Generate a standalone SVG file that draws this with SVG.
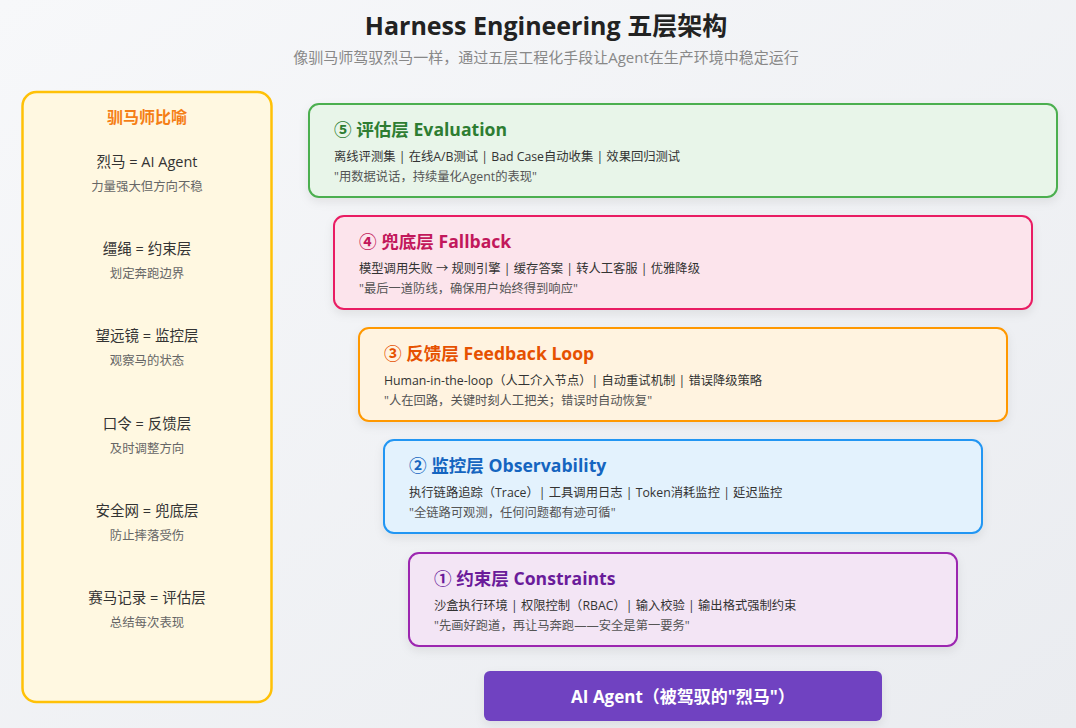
<svg xmlns="http://www.w3.org/2000/svg" width="1076" height="728" viewBox="0 0 1076 728">
  <defs>
    <linearGradient id="bg" x1="0" y1="0" x2="1" y2="1">
      <stop offset="0" stop-color="#f7f8fa"/>
      <stop offset="1" stop-color="#eaecf0"/>
    </linearGradient>
    <filter id="sh" x="-10%" y="-20%" width="120%" height="150%">
      <feDropShadow dx="0" dy="4" stdDeviation="5" flood-color="#000" flood-opacity="0.08"/>
    </filter>
  </defs>
  <style>
    text { font-family: "Open Sans", "Noto Sans CJK SC", sans-serif; }
    .title { font-size: 25px; font-weight: 700; fill: #222; text-anchor: middle; }
    .subtitle { font-size: 15px; fill: #888; text-anchor: middle; }
    .panel { fill: #FFF8E1; stroke: #FFC107; stroke-width: 2.5; }
    .ptitle { font-size: 16px; font-weight: 700; fill: #F57F17; text-anchor: middle; }
    .pitem { font-size: 14.5px; fill: #333; text-anchor: middle; }
    .psub { font-size: 12.4px; fill: #666; text-anchor: middle; }
    .box { stroke-width: 2; filter: url(#sh); }
    .ltitle { font-size: 17.6px; font-weight: 700; }
    .l1 { font-size: 12.3px; fill: #333; }
    .l2 { font-size: 12.3px; fill: #555; }
    .agent { fill: #6F42C1; filter: url(#sh); }
    .agentt { font-size: 17px; font-weight: 700; fill: #fff; text-anchor: middle; }
  </style>
  <rect x="0" y="0" width="1076" height="728" fill="url(#bg)"/>

  <g id="header">
    <text class="title" x="546" y="35">Harness Engineering 五层架构</text>
    <text class="subtitle" x="546" y="63">像驯马师驾驭烈马一样，通过五层工程化手段让Agent在生产环境中稳定运行</text>
  </g>

  <g id="metaphor">
    <rect class="panel" x="22.5" y="92" width="249" height="610" rx="14"/>
    <text class="ptitle" x="147" y="123">驯马师比喻</text>
    <text class="pitem" x="147" y="167">烈马 = AI Agent</text>
    <text class="psub" x="147" y="191">力量强大但方向不稳</text>
    <text class="pitem" x="147" y="254">缰绳 = 约束层</text>
    <text class="psub" x="147" y="278">划定奔跑边界</text>
    <text class="pitem" x="147" y="341">望远镜 = 监控层</text>
    <text class="psub" x="147" y="365">观察马的状态</text>
    <text class="pitem" x="147" y="429">口令 = 反馈层</text>
    <text class="psub" x="147" y="453">及时调整方向</text>
    <text class="pitem" x="147" y="516">安全网 = 兜底层</text>
    <text class="psub" x="147" y="540">防止摔落受伤</text>
    <text class="pitem" x="147" y="603">赛马记录 = 评估层</text>
    <text class="psub" x="147" y="627">总结每次表现</text>
  </g>

  <g id="layer5">
    <rect class="box" x="309" y="104" width="748" height="93" rx="10" fill="#E8F5E9" stroke="#4CAF50"/>
    <text class="ltitle" x="334" y="136" fill="#2E7D32">⑤ 评估层 Evaluation</text>
    <text class="l1" x="334" y="161">离线评测集 | 在线A/B测试 | Bad Case自动收集 | 效果回归测试</text>
    <text class="l2" x="334" y="181">"用数据说话，持续量化Agent的表现"</text>
  </g>

  <g id="layer4">
    <rect class="box" x="334" y="216" width="698" height="93" rx="10" fill="#FCE4EC" stroke="#E91E63"/>
    <text class="ltitle" x="359" y="248" fill="#C2185B">④ 兜底层 Fallback</text>
    <text class="l1" x="359" y="273">模型调用失败 → 规则引擎 | 缓存答案 | 转人工客服 | 优雅降级</text>
    <text class="l2" x="359" y="293">"最后一道防线，确保用户始终得到响应"</text>
  </g>

  <g id="layer3">
    <rect class="box" x="359" y="328" width="648" height="93" rx="10" fill="#FFF3E0" stroke="#FF9800"/>
    <text class="ltitle" x="384" y="360" fill="#E65100">③ 反馈层 Feedback Loop</text>
    <text class="l1" x="384" y="385">Human-in-the-loop（人工介入节点）| 自动重试机制 | 错误降级策略</text>
    <text class="l2" x="384" y="405">"人在回路，关键时刻人工把关；错误时自动恢复"</text>
  </g>

  <g id="layer2">
    <rect class="box" x="384" y="440" width="598" height="93" rx="10" fill="#E3F2FD" stroke="#2196F3"/>
    <text class="ltitle" x="409" y="472" fill="#1565C0">② 监控层 Observability</text>
    <text class="l1" x="409" y="497">执行链路追踪（Trace）| 工具调用日志 | Token消耗监控 | 延迟监控</text>
    <text class="l2" x="409" y="517">"全链路可观测，任何问题都有迹可循"</text>
  </g>

  <g id="layer1">
    <rect class="box" x="409" y="553" width="548" height="93" rx="10" fill="#F3E5F5" stroke="#9C27B0"/>
    <text class="ltitle" x="434" y="585" fill="#6A1B9A">① 约束层 Constraints</text>
    <text class="l1" x="434" y="610">沙盒执行环境 | 权限控制（RBAC）| 输入校验 | 输出格式强制约束</text>
    <text class="l2" x="434" y="630">"先画好跑道，再让马奔跑——安全是第一要务"</text>
  </g>

  <g id="agent">
    <rect class="agent" x="484" y="671" width="398" height="50" rx="6"/>
    <text class="agentt" x="683" y="703">AI Agent（被驾驭的"烈马"）</text>
  </g>

  <g id="connectors"/>
</svg>
